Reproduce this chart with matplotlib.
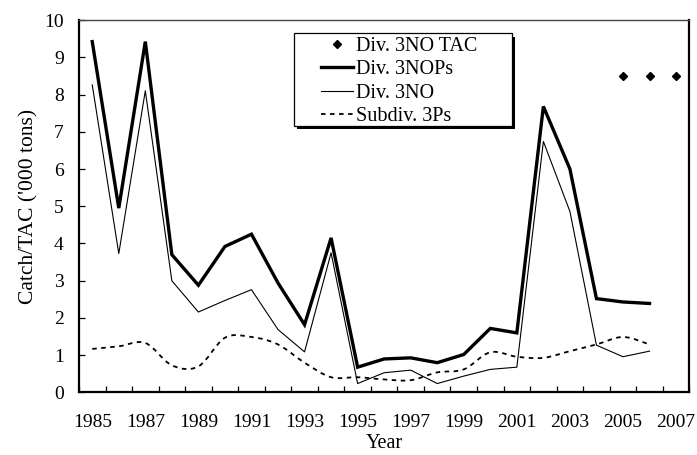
import matplotlib
matplotlib.use("Agg")
import matplotlib.pyplot as plt
import numpy as np
from matplotlib.lines import Line2D
from matplotlib.patches import PathPatch, Rectangle
from matplotlib.path import Path
from matplotlib.transforms import ScaledTranslation

plt.rcParams["font.family"] = ["Liberation Serif", "DejaVu Serif"]

years = list(range(1985, 2008))
catch_years = list(range(1985, 2007))

div_3nops = [9.42, 4.95, 9.42, 3.70, 2.88, 3.92, 4.25, 2.94, 1.82, 4.15,
             0.68, 0.90, 0.93, 0.80, 1.02, 1.72, 1.60, 7.68, 6.00, 2.52,
             2.43, 2.39]
div_3no = [8.26, 3.73, 8.10, 3.00, 2.16, 2.47, 2.76, 1.69, 1.09, 3.75,
           0.24, 0.53, 0.60, 0.24, 0.44, 0.62, 0.68, 6.74, 4.86, 1.27,
           0.96, 1.11]
subdiv_3ps = [1.17, 1.24, 1.33, 0.73, 0.70, 1.47, 1.49, 1.29, 0.80, 0.41,
              0.41, 0.35, 0.33, 0.54, 0.62, 1.08, 0.96, 0.93, 1.11, 1.29,
              1.49, 1.29]

tac_years = [2005, 2006, 2007]
tac_3no = [8.5, 8.5, 8.5]

year_labels = [str(y) for y in years[::2]]
DASH = (0, (2.5, 2.5))


def smooth_path(x, y):
    # cubic Bezier through every point (Catmull-Rom tangents)
    pts = np.column_stack([x, y]).astype(float)
    verts = [pts[0]]
    codes = [Path.MOVETO]
    n = len(pts)
    for i in range(n - 1):
        p0 = pts[max(i - 1, 0)]
        p1 = pts[i]
        p2 = pts[i + 1]
        p3 = pts[min(i + 2, n - 1)]
        verts += [p1 + (p2 - p0) / 6.0, p2 - (p3 - p1) / 6.0, p2]
        codes += [Path.CURVE4] * 3
    return Path(verts, codes)


fig = plt.figure(figsize=(6.97, 4.55), dpi=100)
ax = fig.add_axes([0.1133, 0.1374, 0.8757, 0.8186])

ax.plot(tac_years, tac_3no, ls="none", marker="D", ms=3.6, color="black")
ax.plot(catch_years, div_3nops, color="black", lw=2.4, solid_joinstyle="miter")
ax.plot(catch_years, div_3no, color="black", lw=0.8)
ax.add_patch(PathPatch(smooth_path(catch_years, subdiv_3ps), fill=False,
                       edgecolor="black", lw=1.3, linestyle=DASH))

ax.set_xlim(1984.5, 2007.5)
ax.set_ylim(0, 10)
ax.set_yticks(range(0, 11))
ax.set_xticks(years[::2], year_labels)
ax.set_xticks(np.arange(1984.5, 2008.0, 1.0), minor=True)
ax.tick_params(axis="x", which="major", length=0, pad=15.5, labelsize=14)
ax.tick_params(axis="x", which="minor", direction="in", length=4.2, width=0.9)
ax.tick_params(axis="y", direction="in", length=4.2, width=0.9, pad=11,
               labelsize=14)

for side in ("left", "bottom", "right"):
    ax.spines[side].set_linewidth(1.6)
ax.spines["top"].set_linewidth(1.0)
ax.spines["top"].set_color("#444444")

ax.set_xlabel("Year", fontsize=14.5, labelpad=2)
ax.set_ylabel("Catch/TAC ('000 tons)", fontsize=15.5, labelpad=4)

# legend box drawn separately so the padding can be wider on the left
box_xy, box_w, box_h = (0.352, 0.7155), 0.3575, 0.2495
shift = ScaledTranslation(2.5 / 72, -2.5 / 72, fig.dpi_scale_trans)
ax.add_patch(Rectangle(box_xy, box_w, box_h, transform=ax.transAxes + shift,
                       facecolor="black", edgecolor="none", zorder=3.9))
ax.add_patch(Rectangle(box_xy, box_w, box_h, transform=ax.transAxes,
                       facecolor="white", edgecolor="black", lw=0.9, zorder=4))

handles = [
    Line2D([], [], ls="none", marker="D", ms=3.6, color="black"),
    Line2D([], [], color="black", lw=2.4),
    Line2D([], [], color="black", lw=0.8),
    Line2D([], [], color="black", lw=1.3, linestyle=DASH),
]
labels = ["Div. 3NO TAC", "Div. 3NOPs", "Div. 3NO", "Subdiv. 3Ps"]
leg = ax.legend(handles, labels, loc="center left",
                bbox_to_anchor=(0.396, 0.835), fontsize=14.5,
                frameon=False, handlelength=1.6, handletextpad=0.15,
                labelspacing=0.2, borderpad=0, borderaxespad=0)
leg.set_zorder(5)

fig.savefig("out.png", dpi=100)
